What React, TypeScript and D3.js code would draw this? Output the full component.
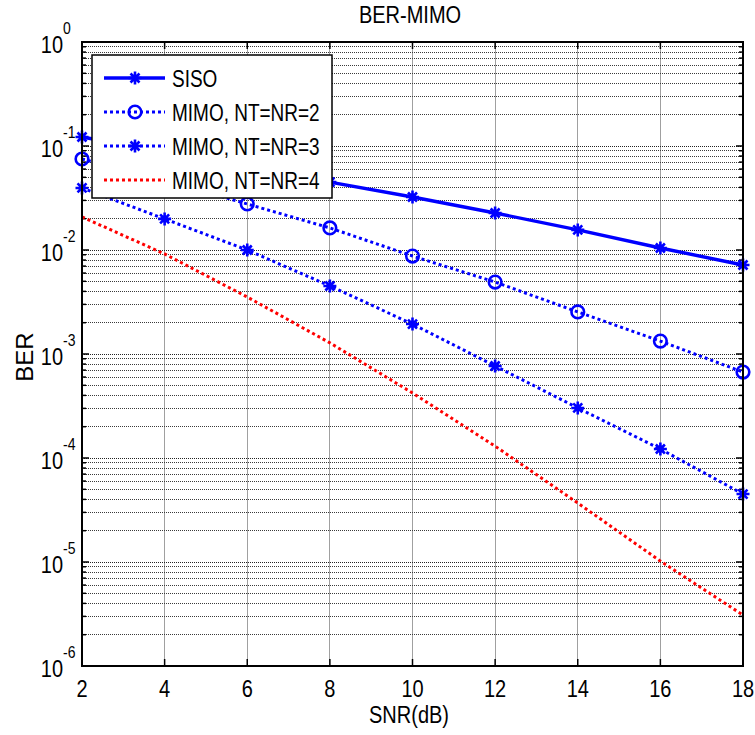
import React from "react";
import * as d3 from "d3";

const snr = [2, 4, 6, 8, 10, 12, 14, 16, 18];
const berSiso = [0.122, 0.0875, 0.0628, 0.045, 0.0323, 0.0227, 0.0156, 0.01045, 0.00718];
const berMimo2 = [0.075, 0.047, 0.0277, 0.0163, 0.00875, 0.00492, 0.00254, 0.00133, 0.00067];
const berMimo3 = [0.0395, 0.0199, 0.01, 0.00451, 0.00194, 0.000767, 0.000303, 0.000122, 0.000045];
const berMimo4 = [0.0208, 0.00916, 0.00353, 0.00128, 0.000422, 0.00013, 0.0000369, 0.0000102, 0.00000309];
const seriesNames = ["SISO", "MIMO, NT=NR=2", "MIMO, NT=NR=3", "MIMO, NT=NR=4"];
const xTicks = [2, 4, 6, 8, 10, 12, 14, 16, 18];
const yExponents = [0, -1, -2, -3, -4, -5, -6];

const W = 755, H = 735;
const L = 82, R = 743, T = 42, B = 666;
const FONT = "'Liberation Sans', Arial, sans-serif";

const STAR = "M-6.5,0H6.5M0,-6.5V6.5M-4.5,-4.5L4.5,4.5M-4.5,4.5L4.5,-4.5";
const DIAMOND = "M0,-5L3,0L0,5L-3,0Z M-5,0L0,-3L5,0L0,3Z";

function Txt({ x, y, size = 20, sy = 1.15, anchor = "start", children }: any) {
  return (
    <text transform={`translate(${x},${y}) scale(1,${sy})`} fontSize={size} textAnchor={anchor} fontFamily={FONT} fill="#000">
      {children}
    </text>
  );
}

function Marker({ kind, cx, cy }: any) {
  if (kind === "star")
    return (
      <g transform={`translate(${cx},${cy})`}>
        <path d={DIAMOND} fill="#0000ff" stroke="none" />
        <path d={STAR} stroke="#0000ff" strokeWidth={2.6} fill="none" />
      </g>
    );
  if (kind === "circle") return <circle cx={cx} cy={cy} r={6.3} stroke="#0000ff" strokeWidth={2.6} fill="none" />;
  return null;
}

export default function App() {
  const x = d3.scaleLinear().domain([2, 18]).range([L, R]);
  const y = d3.scaleLog().domain([1e-6, 1]).range([B, T]);

  const series = [
    { name: seriesNames[0], vals: berSiso, color: "#0000ff", dash: undefined, width: 3.4, marker: "star" },
    { name: seriesNames[1], vals: berMimo2, color: "#0000ff", dash: "3,3", width: 3, marker: "circle" },
    { name: seriesNames[2], vals: berMimo3, color: "#0000ff", dash: "3,3", width: 3, marker: "star" },
    { name: seriesNames[3], vals: berMimo4, color: "#ff0000", dash: "3,3", width: 3, marker: "none" },
  ];

  const line = d3.line<number>().x((_, i) => x(snr[i])).y((d) => y(d));

  const minors: number[] = [];
  for (let e = -6; e < 0; e++) for (let k = 2; k <= 9; k++) minors.push(k * Math.pow(10, e));

  const legendRows = [78, 112, 146, 180];

  return (
    <svg width={W} height={H} style={{ position: "absolute", left: 0, top: 0, background: "#fff" }}>
      <rect x={0} y={0} width={W} height={H} fill="#fff" />
      {/* grid */}
      {xTicks.slice(1, -1).map((t) => (
        <line key={"vg" + t} x1={x(t)} x2={x(t)} y1={T} y2={B} stroke="#a0a0a0" strokeWidth={1} shapeRendering="crispEdges" />
      ))}
      {minors.map((m, i) => (
        <line key={"hm" + i} x1={L} x2={R} y1={y(m)} y2={y(m)} stroke="#3a3a3a" strokeWidth={1} strokeDasharray="1,1" shapeRendering="crispEdges" />
      ))}
      {yExponents.map((e) => (
        <line key={"hM" + e} x1={L} x2={R} y1={y(Math.pow(10, e))} y2={y(Math.pow(10, e))} stroke="#222" strokeWidth={1} strokeDasharray="1,1" shapeRendering="crispEdges" />
      ))}
      {/* ticks */}
      {xTicks.map((t) => (
        <g key={"xt" + t}>
          <line x1={x(t)} x2={x(t)} y1={B} y2={B - 7} stroke="#000" strokeWidth={1.5} />
          <line x1={x(t)} x2={x(t)} y1={T} y2={T + 7} stroke="#000" strokeWidth={1.5} />
        </g>
      ))}
      {minors.map((m, i) => (
        <g key={"ym" + i}>
          <line x1={L} x2={L + 4} y1={y(m)} y2={y(m)} stroke="#000" strokeWidth={1.5} />
          <line x1={R} x2={R - 4} y1={y(m)} y2={y(m)} stroke="#000" strokeWidth={1.5} />
        </g>
      ))}
      {yExponents.map((e) => (
        <g key={"yM" + e}>
          <line x1={L} x2={L + 7} y1={y(Math.pow(10, e))} y2={y(Math.pow(10, e))} stroke="#000" strokeWidth={1.5} />
          <line x1={R} x2={R - 7} y1={y(Math.pow(10, e))} y2={y(Math.pow(10, e))} stroke="#000" strokeWidth={1.5} />
        </g>
      ))}
      {/* series */}
      {series.map((s) => (
        <g key={s.name}>
          <path d={line(s.vals) || ""} fill="none" stroke={s.color} strokeWidth={s.width} strokeDasharray={s.dash} />
          {s.vals.map((v, i) => (
            <Marker key={i} kind={s.marker} cx={x(snr[i])} cy={y(v)} />
          ))}
        </g>
      ))}
      {/* axes box */}
      <rect x={L} y={T} width={R - L} height={B - T} fill="none" stroke="#000" strokeWidth={2} />
      {/* tick labels */}
      {xTicks.map((t) => (
        <Txt key={"xl" + t} x={x(t)} y={697} anchor="middle">{String(t)}</Txt>
      ))}
      {yExponents.map((e) => {
        const yy = y(Math.pow(10, e));
        return (
          <g key={"yl" + e}>
            <Txt x={63} y={yy + 11} anchor="end" sy={1.2}>10</Txt>
            <Txt x={63} y={yy - 8} size={14} anchor="start" sy={1.2}>{String(e)}</Txt>
          </g>
        );
      })}
      {/* title and axis labels */}
      <Txt x={410} y={23} anchor="middle">BER-MIMO</Txt>
      <Txt x={409} y={723} anchor="middle">SNR(dB)</Txt>
      <text transform={`translate(33,357) rotate(-90)`} fontSize={24} textAnchor="middle" fontFamily={FONT}>BER</text>
      {/* legend */}
      <rect x={92} y={55} width={240} height={143} fill="#fff" stroke="#000" strokeWidth={1.5} />
      {series.map((s, i) => (
        <g key={"lg" + i}>
          <line x1={104} x2={165} y1={legendRows[i]} y2={legendRows[i]} stroke={s.color} strokeWidth={s.width} strokeDasharray={s.dash} />
          <Marker kind={s.marker} cx={135} cy={legendRows[i]} />
          <Txt x={172} y={legendRows[i] + 9} size={19} sy={1.3} anchor="start">{s.name}</Txt>
        </g>
      ))}
    </svg>
  );
}
